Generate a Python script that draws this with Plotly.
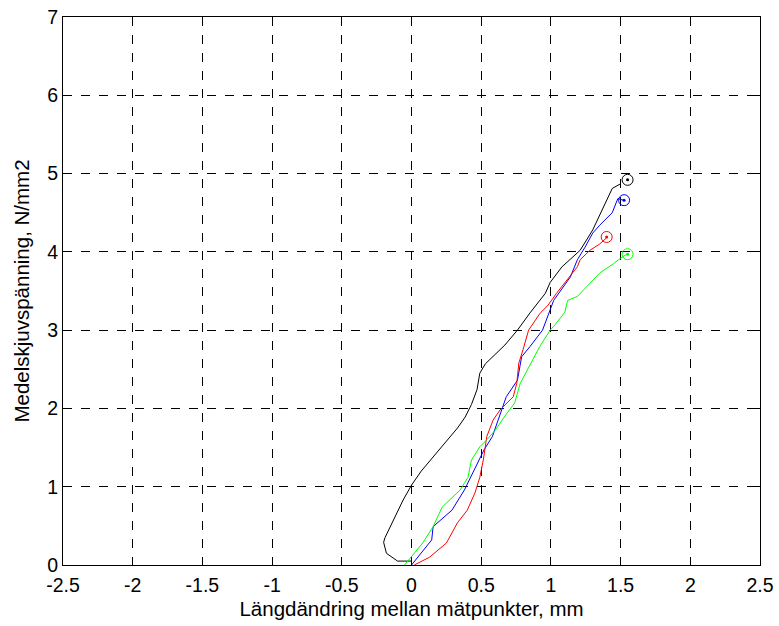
import plotly.graph_objects as go

black_x = [0.0, -0.1, -0.18, -0.2, -0.19, -0.14, -0.105, -0.06, 0.0, 0.07, 0.155, 0.25, 0.33, 0.385, 0.43, 0.47, 0.49, 0.53, 0.58, 0.67, 0.76, 0.85, 0.96, 0.995, 1.08, 1.21, 1.30, 1.35, 1.41, 1.44, 1.50]
black_y = [0.05, 0.05, 0.15, 0.29, 0.35, 0.54, 0.66, 0.83, 1.02, 1.2, 1.38, 1.58, 1.75, 1.89, 2.05, 2.24, 2.45, 2.57, 2.66, 2.81, 3.0, 3.22, 3.47, 3.61, 3.81, 4.02, 4.28, 4.47, 4.70, 4.81, 4.87]

blue_x = [0.0, 0.07, 0.145, 0.155, 0.29, 0.38, 0.47, 0.52, 0.58, 0.62, 0.68, 0.76, 0.79, 0.85, 0.94, 1.02, 1.14, 1.19, 1.245, 1.30, 1.35, 1.44, 1.48, 1.52]
blue_y = [0.0, 0.15, 0.32, 0.49, 0.70, 0.96, 1.30, 1.47, 1.64, 1.85, 2.15, 2.36, 2.66, 2.79, 3.0, 3.38, 3.68, 3.9, 4.06, 4.24, 4.34, 4.5, 4.68, 4.66]

red_x = [0.02, 0.13, 0.25, 0.33, 0.40, 0.455, 0.49, 0.515, 0.54, 0.585, 0.635, 0.73, 0.755, 0.77, 0.80, 0.84, 0.92, 0.98, 1.04, 1.115, 1.19, 1.21, 1.28, 1.35, 1.40]
red_y = [0.0, 0.1, 0.28, 0.54, 0.70, 0.92, 1.12, 1.34, 1.64, 1.85, 1.98, 2.15, 2.32, 2.58, 2.75, 3.0, 3.21, 3.32, 3.47, 3.64, 3.81, 3.9, 4.02, 4.1, 4.18]

green_x = [-0.05, 0.08, 0.155, 0.22, 0.35, 0.405, 0.43, 0.49, 0.54, 0.60, 0.685, 0.74, 0.78, 0.84, 0.87, 0.92, 0.995, 1.03, 1.10, 1.12, 1.19, 1.28, 1.35, 1.45, 1.50, 1.545]
green_y = [0.0, 0.28, 0.49, 0.74, 0.96, 1.12, 1.34, 1.51, 1.6, 1.72, 1.94, 2.07, 2.32, 2.53, 2.62, 2.79, 3.0, 3.07, 3.23, 3.38, 3.43, 3.60, 3.73, 3.85, 3.92, 3.97]

peak_x = [1.55, 1.525, 1.40, 1.55]
peak_y = [4.92, 4.66, 4.19, 3.97]
peak_colors = ["#000000", "#0000ff", "#ff0000", "#00ff00"]

x_ticks = [-2.5, -2, -1.5, -1, -0.5, 0, 0.5, 1, 1.5, 2, 2.5]
x_ticklabels = ["-2.5", "-2", "-1.5", "-1", "-0.5", "0", "0.5", "1", "1.5", "2", "2.5"]
y_ticks = [0, 1, 2, 3, 4, 5, 6, 7]

fig = go.Figure()
for xs, ys, c in [(black_x, black_y, "#000000"), (blue_x, blue_y, "#0000ff"),
                  (red_x, red_y, "#ff0000"), (green_x, green_y, "#00ff00")]:
    fig.add_trace(go.Scatter(x=xs, y=ys, mode="lines", line=dict(color=c, width=1),
                             showlegend=False, hoverinfo="skip"))

fig.add_trace(go.Scatter(x=peak_x, y=peak_y, mode="markers",
                         marker=dict(symbol="circle-open", size=11, color=peak_colors,
                                     line=dict(width=1, color=peak_colors)),
                         showlegend=False, hoverinfo="skip"))
fig.add_trace(go.Scatter(x=peak_x, y=peak_y, mode="markers",
                         marker=dict(symbol="circle", size=3, color=peak_colors),
                         showlegend=False, hoverinfo="skip"))

axis_common = dict(
    showgrid=True, gridcolor="#000000", gridwidth=1, griddash="dash",
    zeroline=False, showline=True, linecolor="#000000", linewidth=1, mirror="ticks",
    ticks="inside", ticklen=5, tickcolor="#000000",
    tickfont=dict(family="Liberation Sans, Arial, sans-serif", size=19.5, color="#000000"),
    automargin=False,
)

fig.update_layout(
    width=779, height=626,
    margin=dict(l=63, r=19, t=17, b=61, autoexpand=False),
    paper_bgcolor="#ffffff", plot_bgcolor="#ffffff",
    font=dict(family="Liberation Sans, Arial, sans-serif", color="#000000"),
    xaxis=dict(range=[-2.5, 2.5], tickvals=x_ticks, ticktext=x_ticklabels,
               ticklabelstandoff=3,
               title=dict(text="Längdändring mellan mätpunkter, mm", font=dict(size=20.5), standoff=6),
               **axis_common),
    yaxis=dict(range=[0, 7], tickvals=y_ticks,
               title=dict(text="Medelskjuvspänning, N/mm2", font=dict(size=20.5), standoff=12),
               **axis_common),
)

fig.write_html("out.html", config={"displayModeBar": False},
               post_script="document.body.style.margin='0';document.body.style.overflow='hidden';")
